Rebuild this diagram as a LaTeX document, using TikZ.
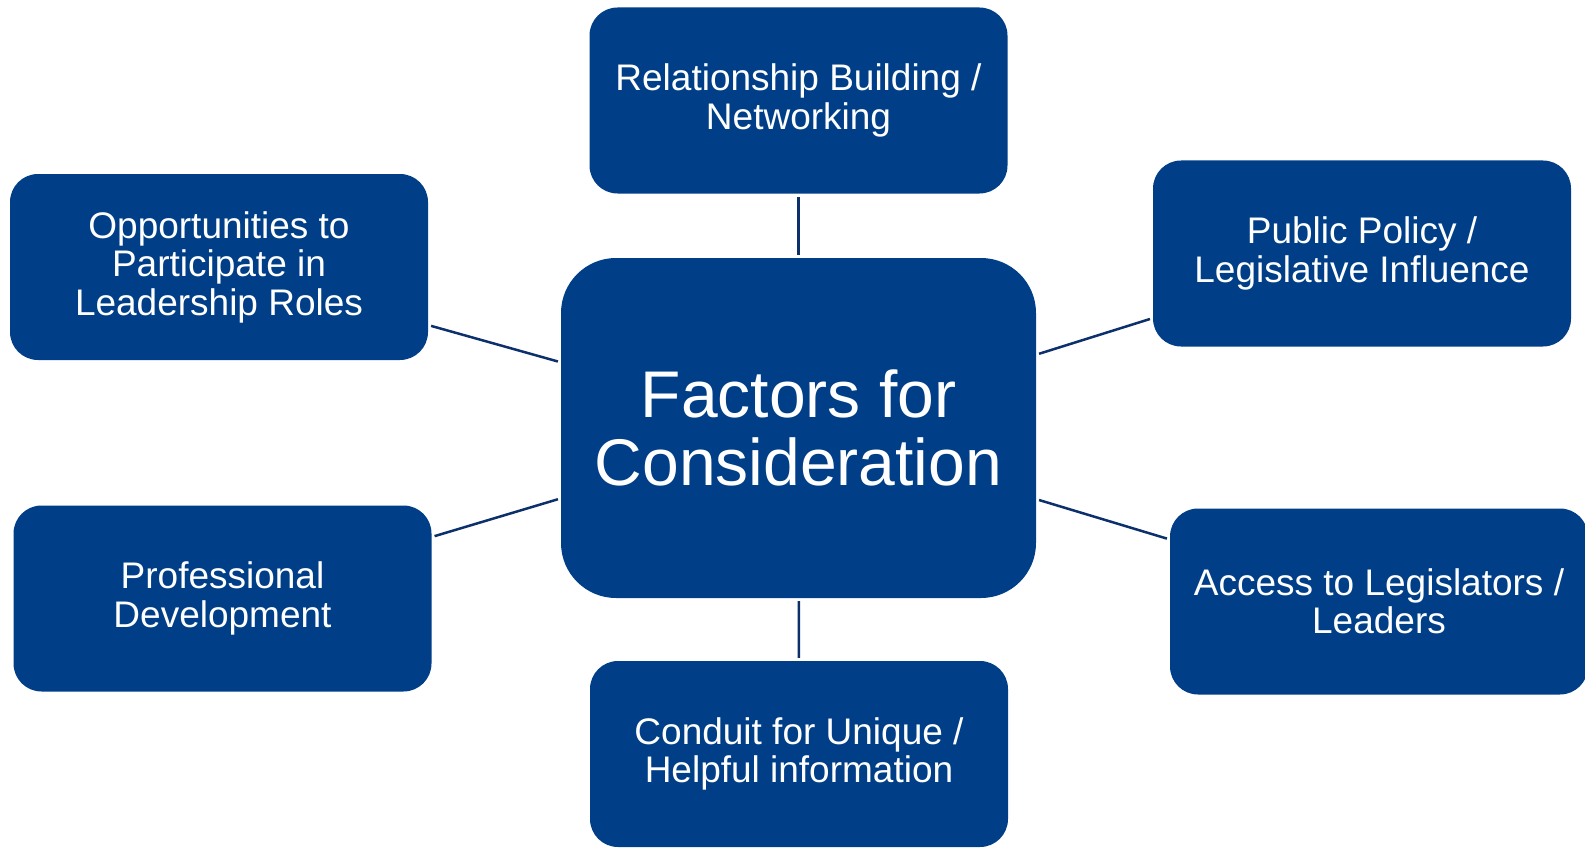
\documentclass[tikz,border=0pt]{standalone}
\usepackage{fontspec}
\setmainfont{Liberation Sans}
\usepackage{tikz}
\usetikzlibrary{positioning}

\definecolor{boxblue}{RGB}{0,63,135}
\definecolor{linkblue}{RGB}{12,48,108}

\begin{document}
\begin{tikzpicture}[x=1pt, y=-1pt,
		factor/.style={draw=none, fill=boxblue, text=white, rounded corners=28pt, inner sep=0pt,
			minimum width=418pt, minimum height=186pt, align=center,
			font=\fontsize{37}{38.5}\selectfont},
		hub/.style={factor, rounded corners=55pt, minimum width=475pt, minimum height=340pt,
			font=\fontsize{66}{68}\selectfont},
		link/.style={draw=linkblue, line width=2.5pt, shorten <=3pt, shorten >=3pt}]
			% Page size of the reference
			\useasboundingbox (0, 0) rectangle (1585, 848);
			
			% Centre box
			\node[hub] (center) at (798.5, 428) {Factors for\\Consideration};
			
			% Surrounding factors
			\node[factor] (relation) at (798.5, 100.5) {Relationship Building /\\Networking};
			\node[factor] (leader) at (219, 267) {Opportunities to\\Participate in\\Leadership Roles};
			\node[factor] (policy) at (1362, 253.5) {Public Policy /\\Legislative Influence};
			\node[factor] (develop) at (222.5, 598.5) {Professional\\Development};
			\node[factor] (access) at (1379, 601.5) {Access to Legislators /\\Leaders};
			\node[factor] (conduit) at (799, 754) {Conduit for Unique /\\Helpful information};
			
			% Connectors from the centre
			\draw[link] (center) -- (relation);
			\draw[link] (center) -- (leader);
			\draw[link] (center) -- (policy);
			\draw[link] (center) -- (develop);
			\draw[link] (center) -- (access);
			\draw[link] (center) -- (conduit);
			
		\end{tikzpicture}
\end{document}
